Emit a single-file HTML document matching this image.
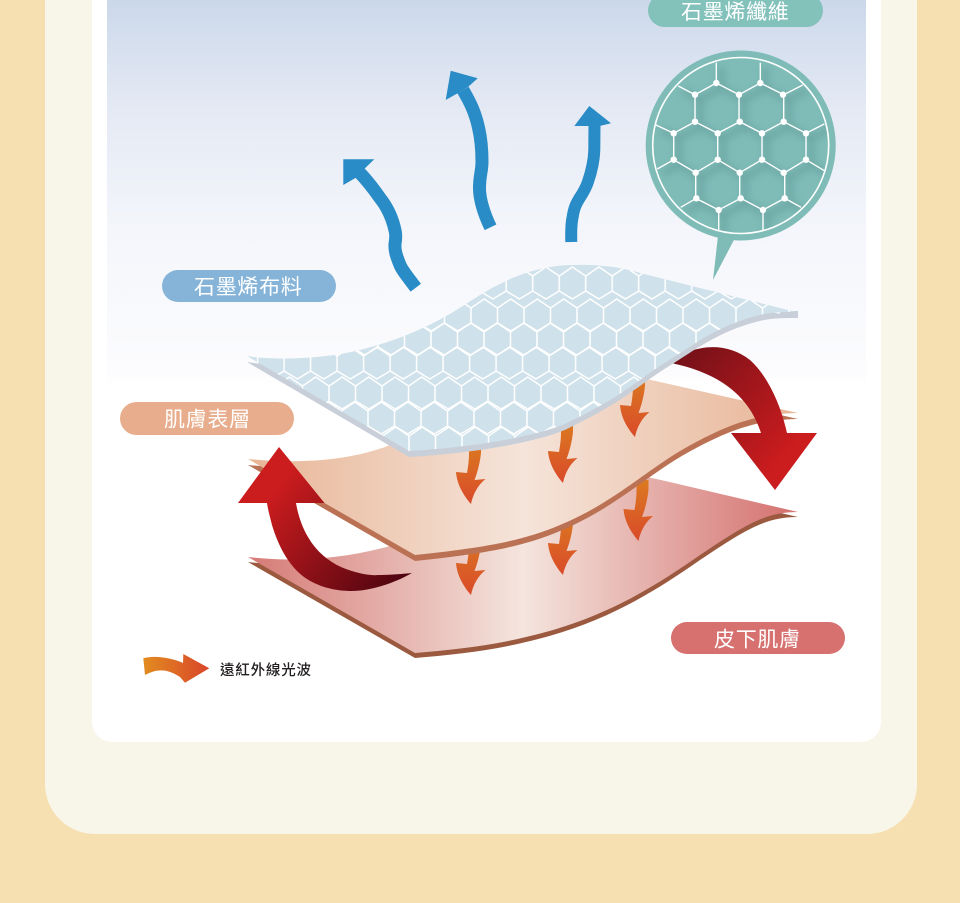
<!DOCTYPE html>
<html lang="zh-Hant"><head><meta charset="utf-8"><title>石墨烯布料</title>
<style>html,body{margin:0;padding:0;background:#f6dfb1;width:960px;height:903px;overflow:hidden}svg{display:block}
text{font-family:"Liberation Sans","Noto Sans CJK TC",sans-serif}</style></head><body>
<svg width="960" height="903" viewBox="0 0 960 903" xmlns="http://www.w3.org/2000/svg">
<defs>
<linearGradient id="sky" x1="0" y1="0" x2="0" y2="1"><stop offset="0" stop-color="#cbd8ea"/><stop offset=".25" stop-color="#e2e8f3"/><stop offset=".6" stop-color="#f4f6fb"/><stop offset=".97" stop-color="#fcfcfe"/><stop offset="1" stop-color="#fff"/></linearGradient>
<linearGradient id="mid" gradientUnits="userSpaceOnUse" x1="248" y1="0" x2="798" y2="0"><stop offset="0" stop-color="#e8b595"/><stop offset=".5" stop-color="#f5e4da"/><stop offset="1" stop-color="#e8b596"/></linearGradient>
<linearGradient id="bot" gradientUnits="userSpaceOnUse" x1="248" y1="0" x2="798" y2="0"><stop offset="0" stop-color="#d67a76"/><stop offset=".5" stop-color="#f4e5de"/><stop offset="1" stop-color="#d4706e"/></linearGradient>
<linearGradient id="org" x1="0" y1="0" x2="0" y2="1"><stop offset="0" stop-color="#db7a20"/><stop offset="1" stop-color="#d94a2a"/></linearGradient>
<linearGradient id="org2" x1="0" y1="0" x2="1" y2="0"><stop offset="0" stop-color="#e28c20"/><stop offset="1" stop-color="#d9452a"/></linearGradient>
<linearGradient id="redR" gradientUnits="userSpaceOnUse" x1="675" y1="350" x2="790" y2="450"><stop offset="0" stop-color="#701018"/><stop offset="1" stop-color="#cb1c1e"/></linearGradient>
<linearGradient id="redL" gradientUnits="userSpaceOnUse" x1="400" y1="590" x2="275" y2="490"><stop offset="0" stop-color="#4c0410"/><stop offset="1" stop-color="#cb1c1e"/></linearGradient>
<path id="oa" d="M0,-10 L0,0 C0,8 -1,14 -2,20 L-13,19 C-12,32 -5,43 2,51 C4,41 9,32 16.5,26 L5.5,27 C9,18 11,9 12,0 L12,-10 Z" fill="url(#org)"/>
<pattern id="hex" patternUnits="userSpaceOnUse" width="26.5" height="34"><path d="M0,10 L13.25,1 L26.5,10 L26.5,25 L13.25,33 L0,25 Z" fill="none" stroke="#fff" stroke-width="1.5"/></pattern>
<rect id="hr" x="-530" y="0" width="1060" height="34" fill="url(#hex)"/>
<clipPath id="fc"><path d="M247,356 C270,360 320,360 360,350 C395,341 430,328 469,302 C495,285 530,265 574,265 C600,264 625,268 640,273 L796,312 C775,312 765,313 752,317 C728,324 712,333 694,344 C670,360 660,365 640,380 C620,394 610,402 567,423 C540,435 480,447 409,451 Z"/></clipPath>
<clipPath id="cc"><circle cx="740.7" cy="145.5" r="87"/></clipPath>
<filter id="bl" x="-10%" y="-10%" width="120%" height="120%"><feGaussianBlur stdDeviation="4"/></filter>
<path id="net" d="M716.3,62.7V83L695,94.7V121.7L673.7,133.3V159.7L695.7,172.7V198.3L718.7,210L740.7,198.3L763,210L784.7,198.3V172.7L806,159.7V133.3L783.7,121.7V94.7L760.3,83L739,94.7L716.3,83M760.3,62.7V83M695,94.7L678.3,86M783.7,94.7L802.7,85M739,94.7V121.7M695,121.7L717.7,133.3L739.7,121.7L762,133.3L783.7,121.7M717.7,133.3V159.7L695.7,172.7M717.7,159.7L739.7,172.7L762,159.7L783.7,172.7M762,133.3V159.7M739.7,172.7V198.3M673.7,133.3L656,125M806,133.3L824.3,124M673.7,159.7L657.3,169M806,159.7L824.3,170.7M696.3,198.3L680.7,207.3M784.7,198.3L801,207.3M718.7,210V230M763,210V230" fill="none"/>
</defs>

<rect width="960" height="903" fill="#f6dfb1"/>
<path d="M45,0H917V784A50,50 0 0 1 867,834H95A50,50 0 0 1 45,784Z" fill="#f8f6e9"/>
<path d="M92,0H881V722A20,20 0 0 1 861,742H112A20,20 0 0 1 92,722Z" fill="#fff"/>
<rect x="107" y="0" width="759" height="385" fill="url(#sky)"/>

<!-- blue arrows -->
<g fill="none" stroke="#2a8cc6" stroke-width="13">
<path d="M415.8,287.7 C407,276 402,270 400,265 C396,255 394.5,250 395,244 C396,238 396,235 395.3,231.7 C393,220 388,208 380,198 C373,188 367,180 358,171"/>
<path d="M490.5,227.3 C486,218 484,212 482.5,206.7 C480,198 479,190 479.7,183.3 C480,175 482,170 482,161.7 C482,150 481,138 478.3,126.7 C475,112 470,102 463,90"/>
<path stroke-width="12" d="M571.3,242 C571,232 571,224 572.7,216.7 C574,208 576,204 579,199 C583,193 586,188 588,181.7 C592,170 594,160 594.3,150 L594.5,125"/>
</g>
<g fill="#2a8cc6">
<path d="M343.3,159.3L374.3,159.3L365,168.3L355,178.3L343.3,185Z"/>
<path d="M450.7,70.7L477.7,78.3L468.3,86.7L457.7,93.3L445.7,100Z"/>
<path d="M589.3,106L611,123.3L600.7,125.7L588.3,126L574.3,126Z"/>
</g>

<!-- bottom layer -->
<path transform="translate(0,5)" d="M248,557 C290,562 340,560 390,546 C450,520 500,470 590,465 L661,480 L798,512 C765,512 745,525 700,555 C650,590 600,620 526,637 C490,646 450,650 415,653 Z" fill="#9b5a40"/>
<path d="M248,557 C290,562 340,560 390,546 C450,520 500,470 590,465 L661,480 L798,512 C765,512 745,525 700,555 C650,590 600,620 526,637 C490,646 450,650 415,653 Z" fill="url(#bot)"/>
<use href="#oa" x="469" y="544"/><use href="#oa" x="561" y="524"/><use href="#oa" x="636.5" y="490"/>

<!-- middle layer -->
<path transform="translate(0,6)" d="M248,459 C290,463 340,463 385,447 C450,420 520,370 590,368 L651,380 L798,413 C760,414 735,422 700,440 C650,465 620,500 560,525 C520,542 480,548 415,555 Z" fill="#bb7254"/>
<path d="M248,459 C290,463 340,463 385,447 C450,420 520,370 590,368 L651,380 L798,413 C760,414 735,422 700,440 C650,465 620,500 560,525 C520,542 480,548 415,555 Z" fill="url(#mid)"/>
<use href="#oa" x="469" y="453"/><use href="#oa" x="561" y="432"/><use href="#oa" x="633" y="386"/>

<!-- red arrows -->
<path d="M671,363 C690,345 725,340 750,360 C770,378 782,410 787,433 L817,433 L775,490 L731,433 L761,433 C752,405 730,375 671,363Z" fill="url(#redR)"/>
<path d="M279,447L324.5,503L296,503C298,515 302,527 308,537C316,551 328,561 341,567C355,573 370,576 378,575C390,575 402,574 412,573C395,583 370,591 352,591C335,591 318,587 304,577C288,565 278,545 272,525C270,517 268,510 267,503L238,503Z" fill="url(#redL)"/>

<!-- fabric -->
<path transform="translate(0,6)" d="M247,356 C270,360 320,360 360,350 C395,341 430,328 469,302 C495,285 530,265 574,265 C600,264 625,268 640,273 L796,312 C775,312 765,313 752,317 C728,324 712,333 694,344 C670,360 660,365 640,380 C620,394 610,402 567,423 C540,435 480,447 409,451 Z" fill="#c8cfd9"/>
<path d="M780,311L798,311L798,318L780,318Z" fill="#c8cfd9"/>
<path d="M247,356 C270,360 320,360 360,350 C395,341 430,328 469,302 C495,285 530,265 574,265 C600,264 625,268 640,273 L796,312 C775,312 765,313 752,317 C728,324 712,333 694,344 C670,360 660,365 640,380 C620,394 610,402 567,423 C540,435 480,447 409,451 Z" fill="#cfe1ea"/>
<g clip-path="url(#fc)">
<use href="#hr" x="532.7" y="266"/>
<use href="#hr" x="471" y="298"/>
<use href="#hr" x="431" y="322"/>
<use href="#hr" x="363.6" y="346"/>
<use href="#hr" x="329" y="376"/>
<use href="#hr" x="368" y="401"/>
<use href="#hr" x="409" y="426"/>
</g>

<!-- bubble -->
<path d="M718,236L736,236L713,280Z" fill="#7fbcb8"/>
<circle cx="740.7" cy="145.5" r="95" fill="#7fbcb8"/>
<g clip-path="url(#cc)"><use href="#net" x="5" y="5" stroke="#4a7e7b" stroke-width="6" opacity=".35" filter="url(#bl)"/></g>
<circle cx="740.7" cy="145.5" r="88" fill="none" stroke="#fff" stroke-width="1.6"/>
<use href="#net" stroke="#fff" stroke-width="1.4"/>
<g fill="#fff">
<circle cx="716.3" cy="83" r="3.2"/><circle cx="760.3" cy="83" r="3.2"/>
<circle cx="695" cy="94.7" r="3.2"/><circle cx="739" cy="94.7" r="3.2"/><circle cx="783" cy="94.7" r="3.2"/>
<circle cx="695" cy="121.7" r="3.2"/><circle cx="739.7" cy="121.7" r="3.2"/><circle cx="783.7" cy="121.7" r="3.2"/>
<circle cx="673.7" cy="133.3" r="3.2"/><circle cx="717.7" cy="133.3" r="3.2"/><circle cx="762" cy="133.3" r="3.2"/><circle cx="806" cy="133.3" r="3.2"/>
<circle cx="673.7" cy="159.7" r="3.2"/><circle cx="717.7" cy="159.7" r="3.2"/><circle cx="762" cy="159.7" r="3.2"/><circle cx="806" cy="159.7" r="3.2"/>
<circle cx="695.7" cy="172.7" r="3.2"/><circle cx="739.7" cy="172.7" r="3.2"/><circle cx="783.7" cy="172.7" r="3.2"/>
<circle cx="696.3" cy="198.3" r="3.2"/><circle cx="740.7" cy="198.3" r="3.2"/><circle cx="784.7" cy="198.3" r="3.2"/>
<circle cx="718.7" cy="210" r="3.2"/><circle cx="763" cy="210" r="3.2"/>
</g>

<!-- pills -->
<rect x="648" y="-6" width="175" height="33" rx="16.5" fill="#83c1bb"/>
<text x="681" y="19" font-size="21" letter-spacing=".7" fill="#fff">石墨烯纖維</text>
<rect x="162" y="270" width="174" height="32" rx="16" fill="#86b4d8"/>
<text x="194" y="294" font-size="21" letter-spacing=".7" fill="#fff">石墨烯布料</text>
<rect x="120" y="402" width="174" height="33" rx="16.5" fill="#e8ad8c"/>
<text x="164" y="426.5" font-size="21" letter-spacing=".7" fill="#fff">肌膚表層</text>
<rect x="671" y="622" width="174" height="32" rx="16" fill="#d6716f"/>
<text x="714" y="646.5" font-size="21" letter-spacing=".7" fill="#fff">皮下肌膚</text>

<!-- legend -->
<path d="M143.3,658.3C155,655 172,658 183,663L183.3,654L209.3,668.3L185,682.7L180,677C168,669 158,668 145,675Z" fill="url(#org2)"/>
<text x="220" y="675" font-size="14.5" font-weight="500" letter-spacing=".8" fill="#231f20">遠紅外線光波</text>
</svg>
</body></html>
